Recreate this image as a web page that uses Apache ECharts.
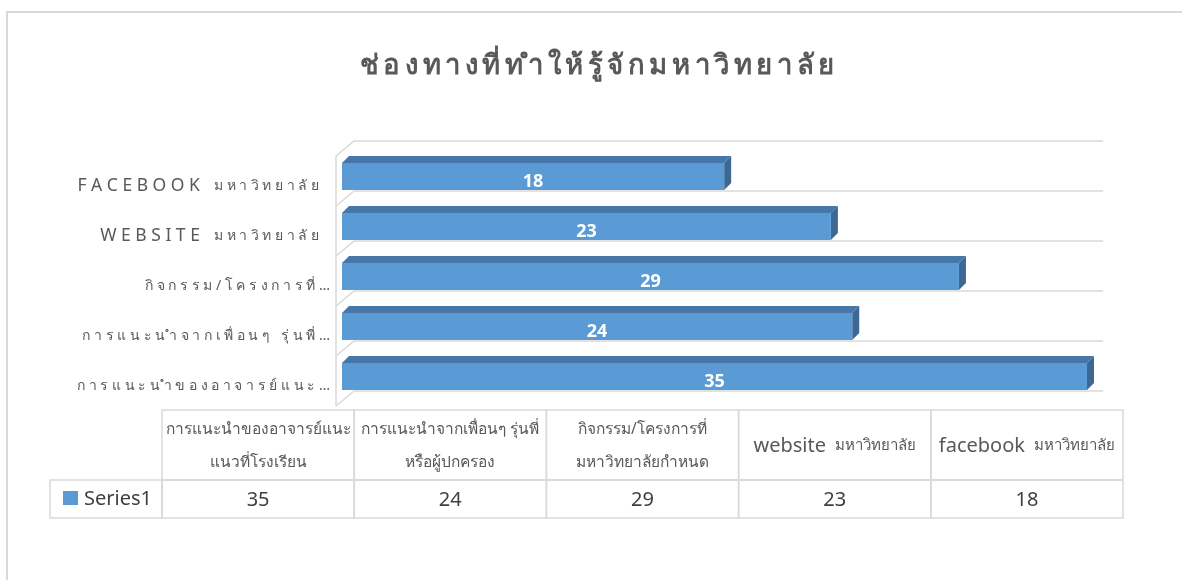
<!DOCTYPE html>
<html>
<head>
<meta charset="utf-8">
<title>ช่องทางที่ทำให้รู้จักมหาวิทยาลัย</title>
<script src="https://cdn.jsdelivr.net/npm/echarts@6/dist/echarts.min.js"></script>
<style>
  html, body { margin: 0; padding: 0; background: #fff; }
  #main { width: 1182px; height: 580px; }
</style>
</head>
<body>
<div id="main"></div>
<script>
// data, bottom -> top on the chart, left -> right in the table
var titleText = 'ช่องทางที่ทำให้รู้จักมหาวิทยาลัย';
var seriesName = 'Series1';
var axisLabels = [
  'การแนะนำของอาจารย์แนะ…',
  'การแนะนำจากเพื่อนๆ รุ่นพี่…',
  'กิจกรรม/โครงการที่…',
  'WEBSITE มหาวิทยาลัย',
  'FACEBOOK มหาวิทยาลัย'
];
var tableHeaders = [
  'การแนะนำของอาจารย์แนะ\nแนวที่โรงเรียน',
  'การแนะนำจากเพื่อนๆ รุ่นพี่\nหรือผู้ปกครอง',
  'กิจกรรม/โครงการที่\nมหาวิทยาลัยกำหนด',
  'website มหาวิทยาลัย',
  'facebook มหาวิทยาลัย'
];
var values = [35, 24, 29, 23, 18];

var FONT = "'Noto Sans', 'DejaVu Sans', sans-serif";
var GRAY = '#595959';
var LINE = '#d9d9d9';
var BLUE = '#5b9bd5';

// excel style letter spacing, keeps thai marks on their base char
function spaced(s, sp) {
  var parts = s.match(/.[\u0E31\u0E34-\u0E3A\u0E47-\u0E4E]*/g) || [];
  return parts.join(sp);
}

var chart = echarts.init(document.getElementById('main'));

// table under the plot
var tblX = 162, colW = 192.2, hdrTop = 410, hdrBot = 480, rowBot = 518, legX = 50;
var tableEls = [];
tableEls.push({
  type: 'rect', shape: { x: 7, y: 12, width: 1300, height: 700 },
  style: { fill: 'none', stroke: LINE, lineWidth: 2 }, silent: true
});
tableHeaders.forEach(function (h, i) {
  var x = tblX + i * colW;
  tableEls.push({ type: 'rect', shape: { x: x, y: hdrTop, width: colW, height: hdrBot - hdrTop },
    style: { fill: 'none', stroke: LINE, lineWidth: 1.5 } });
  tableEls.push({ type: 'rect', shape: { x: x, y: hdrBot, width: colW, height: rowBot - hdrBot },
    style: { fill: 'none', stroke: LINE, lineWidth: 1.5 } });
  var m = h.match(/^([a-z]+) (.*)$/);
  var txt = m ? '{b|' + m[1] + '}{s|' + m[2] + '}' : h;
  tableEls.push({ type: 'text', style: {
    text: txt, x: x + colW / 2, y: (hdrTop + hdrBot) / 2 + 1, align: 'center', verticalAlign: 'middle',
    fontSize: 15.5, fontFamily: FONT, fill: GRAY, lineHeight: 33,
    rich: {
      b: { fontSize: 20, fontFamily: FONT, fill: GRAY, padding: [0, 9, 0, 0] },
      s: { fontSize: 15, fontFamily: FONT, fill: GRAY }
    }
  } });
  tableEls.push({ type: 'text', style: {
    text: String(values[i]), x: x + colW / 2, y: (hdrBot + rowBot) / 2 + 1, align: 'center', verticalAlign: 'middle',
    fontSize: 20, fontFamily: FONT, fill: '#404040'
  } });
});
tableEls.push({ type: 'rect', shape: { x: legX, y: hdrBot, width: tblX - legX, height: rowBot - hdrBot },
  style: { fill: 'none', stroke: LINE, lineWidth: 1.5 } });
tableEls.push({ type: 'rect', shape: { x: 63, y: 491, width: 15, height: 14 }, style: { fill: BLUE } });
tableEls.push({ type: 'text', style: {
  text: seriesName, x: 84, y: (hdrBot + rowBot) / 2, align: 'left', verticalAlign: 'middle',
  fontSize: 20, fontFamily: FONT, fill: '#404040'
} });

var option = {
  animation: false,
  textStyle: { fontFamily: FONT },
  title: {
    text: spaced(titleText, '\u2006'),
    left: 592,
    textAlign: 'center',
    top: 47,
    textStyle: { fontSize: 27.5, fontWeight: 'bold', color: GRAY, fontFamily: FONT }
  },
  grid: { left: 340, right: 79, top: 141, bottom: 189 },
  xAxis: {
    type: 'value', min: 0, max: 35.75, show: false
  },
  yAxis: {
    type: 'category',
    data: axisLabels,
    axisLine: { show: false },
    axisTick: { show: false },
    splitLine: { show: false },
    axisLabel: {
      interval: 0,
      hideOverlap: false,
      showMinLabel: true,
      showMaxLabel: true,
      margin: 10,
      color: GRAY,
      fontSize: 14,
      lineHeight: 40,
      formatter: function (v) {
        var m = v.match(/^([A-Z]+) (.*)$/);
        if (m) return '\n{c|' + spaced(m[1], ' ') + '}{u|' + spaced(m[2], ' ') + '}';
        return '\n{t|' + spaced(v, ' ') + '}';
      },
      rich: {
        c: { fontSize: 17.5, color: GRAY, lineHeight: 40, padding: [0, 14, 0, 0] },
        t: { fontSize: 14, color: GRAY, lineHeight: 40 },
        u: { fontSize: 14, color: GRAY, lineHeight: 40, padding: [0, 11, 0, 0] }
      }
    }
  },
  graphic: tableEls,
  series: [
    {
      // side wall and floor lines of the 3d plot
      type: 'custom',
      z: 1,
      silent: true,
      data: axisLabels.map(function (c, i) { return [0, i]; }),
      encode: { x: 0, y: 1 },
      renderItem: function (params, api) {
        var i = api.value(1);
        var c = api.coord([0, i]);
        var band = api.size([0, 1])[1];
        var xs = c[0] - 4, xb = c[0] + 14, dd = 15;
        var xe = params.coordSys.x + params.coordSys.width;
        var yb = c[1] + band / 2;
        var kids = [{
          type: 'polyline',
          shape: { points: [[xs, yb + dd], [xb, yb], [xe, yb]] },
          style: { stroke: LINE, lineWidth: 1.5, fill: 'none' }
        }, {
          type: 'line',
          shape: { x1: xs, y1: yb + dd, x2: xs, y2: yb - band + dd },
          style: { stroke: LINE, lineWidth: 1.5 }
        }];
        if (i === axisLabels.length - 1) {
          var yt = c[1] - band / 2;
          kids.push({
            type: 'polyline',
            shape: { points: [[xs, yt + dd], [xb, yt], [xe, yt]] },
            style: { stroke: LINE, lineWidth: 1.5, fill: 'none' }
          });
        }
        return { type: 'group', children: kids };
      }
    },
    {
      name: seriesName,
      type: 'custom',
      z: 2,
      data: values.map(function (v, i) { return [v, i]; }),
      encode: { x: 0, y: 1 },
      renderItem: function (params, api) {
        var i = api.value(1);
        var p0 = api.coord([0, i]);
        var p1 = api.coord([api.value(0), i]);
        var band = api.size([0, 1])[1];
        var x0 = p0[0] + 2, x1 = p1[0];
        var top = p0[1] - 0.06 * band, bot = p0[1] + 0.48 * band;
        var d = 7;
        return {
          type: 'group',
          children: [
            { type: 'polygon', shape: { points: [[x0, top], [x1, top], [x1 + d, top - d], [x0 + d, top - d]] },
              style: { fill: '#4677a8' } },
            { type: 'polygon', shape: { points: [[x1, top], [x1 + d, top - d], [x1 + d, bot - d], [x1, bot]] },
              style: { fill: '#3c6893' } },
            { type: 'rect', shape: { x: x0, y: top, width: x1 - x0, height: bot - top },
              style: { fill: BLUE } },
            { type: 'text', style: {
                text: String(api.value(0)), x: (x0 + x1) / 2, y: p0[1] + 16,
                align: 'center', verticalAlign: 'middle',
                fontSize: 18, fontWeight: 'bold', fontFamily: FONT, fill: '#fff'
              } }
          ]
        };
      }
    }
  ]
};

chart.setOption(option);
</script>
</body>
</html>
